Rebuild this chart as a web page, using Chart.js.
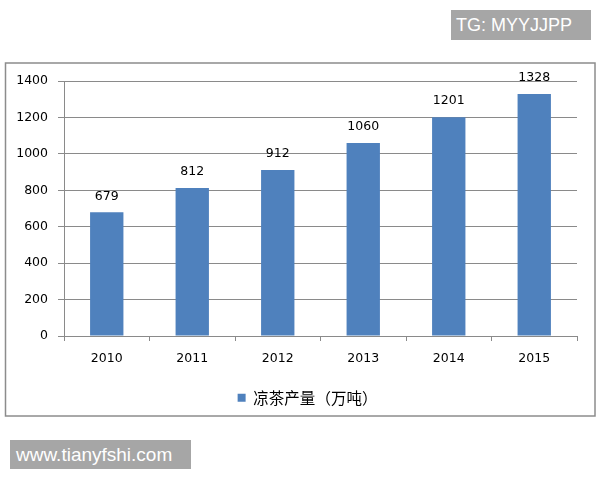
<!DOCTYPE html>
<html>
<head>
<meta charset="utf-8">
<script src="https://cdn.jsdelivr.net/npm/chart.js@4/dist/chart.umd.min.js"></script>
<style>
  html, body { margin: 0; padding: 0; background: #fff; }
  #wrap { position: relative; width: 600px; height: 480px; }
  #c { position: absolute; left: 0; top: 0; }
  .wm { position: absolute; background: #a6a6a6; color: #fff; font-family: "Liberation Sans", Arial, sans-serif; font-weight: 300; box-sizing: border-box; }
  #wm1 { left: 451px; top: 10px; width: 140px; height: 30px; font-size: 18px; line-height: 30px; padding-left: 5px; }
  #wm2 { left: 10px; top: 440px; width: 181px; height: 29px; font-size: 19px; line-height: 29px; padding-left: 6px; }
</style>
</head>
<body>
<div id="wrap">
  <canvas id="c" width="600" height="480"></canvas>
  <div class="wm" id="wm1">TG: MYYJJPP</div>
  <div class="wm" id="wm2">www.tianyfshi.com</div>
</div>
<script>
const categories = ["2010", "2011", "2012", "2013", "2014", "2015"];
const seriesName = "凉茶产量（万吨）";
const values = [679, 812, 912, 1060, 1201, 1328];
const yTicks = [0, 200, 400, 600, 800, 1000, 1200, 1400];

const numFont = { family: "'DejaVu Sans', sans-serif", size: 12.5 };

const framePlugin = {
  id: 'frame',
  beforeDraw(chart) {
    const ctx = chart.ctx;
    ctx.save();
    ctx.fillStyle = '#ffffff';
    ctx.fillRect(0, 0, chart.width, chart.height);
    ctx.strokeStyle = '#8c8c8c';
    ctx.lineWidth = 1.5;
    ctx.strokeRect(5.5, 63, 589.5, 353);
    ctx.restore();
  }
};

const legendShift = {
  id: 'legendShift',
  afterLayout(chart) {
    if (chart.legend) {
      chart.legend.left += 19;
      chart.legend.right += 19;
    }
  }
};

const labelPlugin = {
  id: 'barLabels',
  afterDatasetsDraw(chart) {
    const ctx = chart.ctx;
    const meta = chart.getDatasetMeta(0);
    ctx.save();
    ctx.fillStyle = '#000';
    ctx.font = numFont.size + 'px ' + numFont.family;
    ctx.textAlign = 'center';
    ctx.textBaseline = 'middle';
    meta.data.forEach((bar, i) => {
      ctx.fillText(String(values[i]), bar.x, bar.y - 16);
    });
    ctx.restore();
  }
};

new Chart(document.getElementById('c'), {
  type: 'bar',
  data: {
    labels: categories,
    datasets: [{
      label: seriesName,
      data: values,
      backgroundColor: '#4f81bd',
      borderWidth: 0,
      barPercentage: 0.39,
      categoryPercentage: 1.0
    }]
  },
  options: {
    responsive: false,
    animation: false,
    devicePixelRatio: 1,
    layout: { padding: { left: 0, right: 23, top: 81, bottom: 64.5 } },
    plugins: {
      tooltip: { enabled: false },
      legend: {
        position: 'bottom',
        labels: {
          boxWidth: 8,
          boxHeight: 8,
          padding: 14,
          color: '#000',
          font: { family: "'Noto Sans CJK SC', sans-serif", size: 15.5 }
        }
      }
    },
    scales: {
      x: {
        grid: { display: true, drawOnChartArea: false, drawTicks: true, tickLength: 5, color: '#8a8a8a', offset: true },
        border: { display: true, color: '#8a8a8a', width: 1 },
        ticks: { color: '#000', font: numFont, padding: 10, maxRotation: 0 },
        afterFit(s) { s.height = 40; }
      },
      y: {
        min: 0, max: 1400,
        afterBuildTicks(s) { s.ticks = yTicks.map(v => ({ value: v })); },
        grid: { color: '#8a8a8a', tickLength: 6, drawTicks: true },
        border: { display: true, color: '#8a8a8a', width: 1 },
        ticks: { color: '#000', font: numFont, padding: 10, callback: (v) => String(v) },
        afterFit(s) { s.width = 64; }
      }
    }
  },
  plugins: [framePlugin, legendShift, labelPlugin]
});
</script>
</body>
</html>
